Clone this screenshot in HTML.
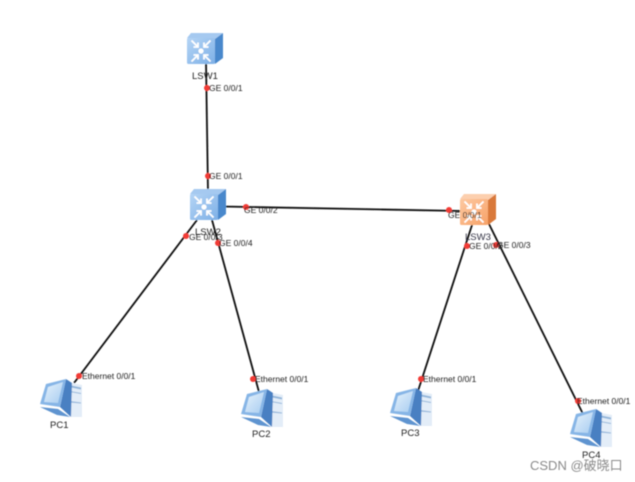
<!DOCTYPE html>
<html>
<head>
<meta charset="utf-8">
<style>
html,body{margin:0;padding:0;background:#fff;}
body{width:635px;height:482px;overflow:hidden;}
svg{display:block;}
text{font-family:"Liberation Sans","Noto Sans CJK SC",sans-serif;font-size:8.5px;fill:#222;}
.soft{filter:url(#b);}
</style>
</head>
<body>
<svg width="635" height="482" viewBox="0 0 635 482" xmlns="http://www.w3.org/2000/svg">
<defs>
<filter id="b" x="-10%" y="-10%" width="120%" height="120%"><feGaussianBlur stdDeviation="0.4"/></filter>
<linearGradient id="bf" x1="0" y1="0" x2="1" y2="1"><stop offset="0" stop-color="#b4d4f5"/><stop offset="1" stop-color="#7eb0e6"/></linearGradient>
<linearGradient id="of" x1="0" y1="0" x2="1" y2="1"><stop offset="0" stop-color="#fdc8a0"/><stop offset="1" stop-color="#f7a268"/></linearGradient>
<linearGradient id="scr" x1="0" y1="0" x2="1" y2="1"><stop offset="0" stop-color="#e6f2fc"/><stop offset="1" stop-color="#a8cdf0"/></linearGradient>
<g id="arrows" fill="none" stroke="#fff" stroke-width="1.8">
<path d="M3 3L9.5 9.5M9.5 5V9.5H5"/><path d="M22 3L15.5 9.5M15.5 5V9.5H20"/>
<path d="M3 24L9.5 17.5M9.5 22V17.5H5"/><path d="M22 24L15.5 17.5M15.5 22V17.5H20"/>
<circle cx="12.5" cy="13.5" r="2.6" fill="#fff" stroke="none"/>
</g>
<g id="swb">
<path d="M0 5L4 0H36L28 6Z" fill="#a5c9f0"/>
<path d="M28 6L36 0V25L28 31Z" fill="#4a88cc"/>
<rect x="0" y="5" width="28" height="26" rx="1.5" fill="url(#bf)"/>
<use href="#arrows" transform="translate(1.5,4.5)"/>
</g>
<g id="swo">
<path d="M0 5L4 0H36L28 6Z" fill="#fccfae"/>
<path d="M28 6L36 0V25L28 31Z" fill="#d9793a"/>
<rect x="0" y="5" width="28" height="26" rx="1.5" fill="url(#of)"/>
<use href="#arrows" transform="translate(1.5,4.5)"/>
</g>
<g id="pc">
<path d="M27 4L42 7V39L31 39Z" fill="#e3edf8"/>
<path d="M29 7L41 9.5V11.5L29 9ZM30 13L41 15V16L30 14ZM30 23L41 24.5V25.5L30 24.5Z" fill="#93b6da"/>
<path d="M26 1L32 5L31 39L20 29Z" fill="#4a80c2"/>
<path d="M0 29L18 31L30 39L17 37Z" fill="#5f94d0"/>
<path d="M6 6L26 1L20 29L0 26Z" fill="#86b5e6"/>
<path d="M8 9L23 4L18 25L4 24Z" fill="url(#scr)"/>
</g>
</defs>

<g class="soft">
<g stroke="#111" stroke-width="1.8" fill="none">
<line x1="206" y1="62" x2="208" y2="192"/>
<line x1="222" y1="206.5" x2="462" y2="211"/>
<line x1="197" y1="220" x2="74" y2="383"/>
<line x1="212" y1="220" x2="259" y2="392"/>
<line x1="473" y1="222" x2="417" y2="394"/>
<line x1="489" y1="224" x2="583" y2="414"/>
</g>

<use href="#swb" x="187" y="33"/>
<use href="#swb" x="190" y="189"/>
<use href="#swo" x="460" y="194"/>

<use href="#pc" x="40" y="378"/>
<use href="#pc" x="241" y="388"/>
<use href="#pc" x="390" y="387"/>
<use href="#pc" x="570" y="408"/>

<g fill="#f23a35">
<circle cx="207" cy="88" r="3"/>
<circle cx="208" cy="176" r="3"/>
<circle cx="246" cy="207" r="3"/>
<circle cx="449" cy="210" r="3"/>
<circle cx="186" cy="236" r="3"/>
<circle cx="218" cy="243" r="3"/>
<circle cx="467" cy="246" r="3"/>
<circle cx="496" cy="245" r="3"/>
<circle cx="79" cy="376" r="3"/>
<circle cx="253" cy="379" r="3"/>
<circle cx="421" cy="379" r="3"/>
<circle cx="578" cy="401" r="3"/>
</g>

<text x="192" y="79" style="font-size:9.5px">LSW1</text>
<text x="195" y="235" style="font-size:9.5px">LSW2</text>
<text x="465" y="240" style="font-size:9.5px;fill:#334">LSW3</text>
<text x="50" y="428" style="font-size:9.5px">PC1</text>
<text x="252" y="437" style="font-size:9.5px">PC2</text>
<text x="401" y="436" style="font-size:9.5px">PC3</text>
<text x="582" y="458" style="font-size:9.5px">PC4</text>

<text x="209" y="91">GE 0/0/1</text>
<text x="209" y="179">GE 0/0/1</text>
<text x="244" y="213">GE 0/0/2</text>
<text x="448" y="218">GE 0/0/1</text>
<text x="189" y="240">GE 0/0/3</text>
<text x="219" y="246">GE 0/0/4</text>
<text x="469" y="249">GE 0/0/2</text>
<text x="497" y="248">GE 0/0/3</text>
<text x="82" y="379">Ethernet 0/0/1</text>
<text x="255" y="382">Ethernet 0/0/1</text>
<text x="423" y="382">Ethernet 0/0/1</text>
<text x="577" y="404">Ethernet 0/0/1</text>

<text x="530" y="470" style="font-size:13px;fill:#8a8a8a">CSDN @破晓口</text>
</g>
</svg>
</body>
</html>
